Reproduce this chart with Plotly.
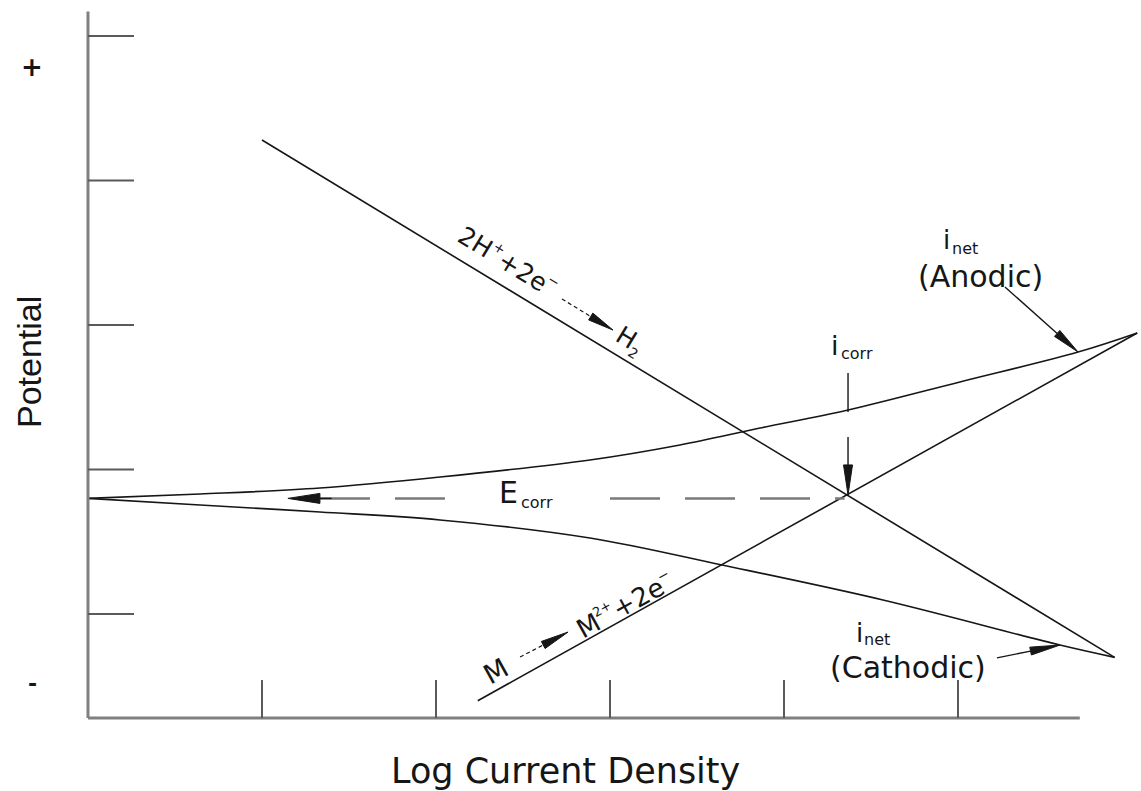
import math
import plotly.graph_objects as go

# ---- Evans diagram data (log current density vs. potential, arbitrary units) ----
X_TICKS = [1, 2, 3, 4, 5]
Y_TICKS = [1, 2, 3, 4, 5]
AXIS_X_END = 5.70
AXIS_Y_BOTTOM = 0.28
AXIS_Y_TOP = 5.17

# Cathodic Tafel line: 2H+ + 2e- -> H2
H_X = [1.00, 5.90]
H_Y = [4.28, 0.70]
# Anodic Tafel line: M -> M2+ + 2e-
M_X = [2.24, 6.03]
M_Y = [0.40, 2.945]

# Net (measured) polarization curves
ANODIC_X = [0.0, 0.644, 1.333, 2.023, 2.885, 3.402, 3.862, 4.368, 5.011, 5.690, 6.03]
ANODIC_Y = [1.80, 1.830, 1.872, 1.948, 2.066, 2.170, 2.287, 2.412, 2.606, 2.813, 2.945]
CATHODIC_X = [0.0, 0.644, 1.333, 2.023, 2.885, 3.644, 4.569, 5.586, 5.90]
CATHODIC_Y = [1.80, 1.754, 1.706, 1.651, 1.526, 1.339, 1.097, 0.785, 0.70]

E_CORR = 1.80
I_CORR = 4.368
E_AT_ICORR = 1.824

# ---- canvas / scale ----
W, H = 1141, 791
X_RANGE = [-0.5057, 6.0517]
Y_RANGE = [-0.2249, 5.2491]
SX = W / (X_RANGE[1] - X_RANGE[0])   # pixels per x unit
SY = H / (Y_RANGE[1] - Y_RANGE[0])   # pixels per y unit

INK = "#161616"
AXIS_GREY = "#808080"
FONT_WIDE = "DejaVu Sans"
FONT_ARIAL = "Liberation Sans, Arial"

# DejaVu Sans advance widths (em) for the glyphs used in the reaction labels
ADV = {"2": 0.636, "H": 0.752, "+": 0.838, "e": 0.615, "\u2212": 0.838, "M": 0.863}

fig = go.Figure()

# curves
for xs, ys in [(H_X, H_Y), (M_X, M_Y)]:
    fig.add_trace(go.Scatter(x=xs, y=ys, mode="lines",
                             line=dict(color=INK, width=1.6), hoverinfo="skip"))
for xs, ys in [(ANODIC_X, ANODIC_Y), (CATHODIC_X, CATHODIC_Y)]:
    fig.add_trace(go.Scatter(x=xs, y=ys, mode="lines",
                             line=dict(color=INK, width=1.6, shape="spline", smoothing=1.0),
                             hoverinfo="skip"))

shapes = []


def seg(x0, y0, x1, y1, color=INK, width=1.5, dash=None):
    d = dict(type="line", xref="x", yref="y", x0=x0, y0=y0, x1=x1, y1=y1,
             line=dict(color=color, width=width))
    if dash:
        d["line"]["dash"] = dash
    shapes.append(d)


def arrow(tail, tip, length=30, width=9, lw=1.4, dash=None):
    """Shaft from tail to the base of a slender filled head ending at tip."""
    dx = (tip[0] - tail[0]) * SX
    dy = (tip[1] - tail[1]) * SY
    n = math.hypot(dx, dy)
    ux, uy = dx / n, dy / n
    bx, by = tip[0] - ux * length / SX, tip[1] - uy * length / SY
    seg(tail[0], tail[1], bx, by, width=lw, dash=dash)
    px, py = -uy * width / 2, ux * width / 2
    p1 = (bx + px / SX, by + py / SY)
    p2 = (bx - px / SX, by - py / SY)
    shapes.append(dict(type="path", xref="x", yref="y",
                       path=f"M {tip[0]},{tip[1]} L {p1[0]},{p1[1]} L {p2[0]},{p2[1]} Z",
                       fillcolor=INK, line=dict(color=INK, width=1)))


# axes drawn as lines with inward ticks
seg(0, AXIS_Y_BOTTOM, 0, AXIS_Y_TOP, color=AXIS_GREY, width=3)
seg(0, AXIS_Y_BOTTOM, AXIS_X_END, AXIS_Y_BOTTOM, color=AXIS_GREY, width=3)
for t in X_TICKS:
    seg(t, AXIS_Y_BOTTOM, t, AXIS_Y_BOTTOM + 38 / SY, color="#5a5a5a", width=2)
for t in Y_TICKS:
    seg(0, t, 46 / SX, t, color="#5a5a5a", width=2)

# E_corr dashed guide with arrow to the potential axis
seg(1.333, E_CORR, 2.195, E_CORR, color="#7a7a7a", width=2.5, dash="50px,25px")
seg(3.00, E_CORR, I_CORR - 0.02, E_CORR, color="#7a7a7a", width=2.5, dash="50px,25px")
arrow((1.40, E_CORR), (1.149, E_CORR), length=32, width=10)

# i_corr pointer
seg(I_CORR, 2.668, I_CORR, 2.398, width=1.4)
arrow((I_CORR, 2.225), (I_CORR, E_AT_ICORR), length=30, width=9)

# net current pointers
arrow((5.270, 3.263), (5.690, 2.813), length=28, width=8)
arrow((5.224, 0.696), (5.586, 0.785), length=30, width=8)

# reaction arrows inside the Tafel-line labels
arrow((2.724, 3.180), (3.017, 2.965), length=26, width=8, lw=1.2, dash="4px,3px")
arrow((2.483, 0.702), (2.759, 0.875), length=28, width=8, lw=1.2, dash="4px,3px")


def to_data(px, py):
    return X_RANGE[0] + px / SX, Y_RANGE[1] - py / SY


def label(px, py, text, size, angle=0, family=FONT_WIDE):
    x, y = to_data(px, py)
    fig.add_annotation(x=x, y=y, xref="x", yref="y", text=text, showarrow=False,
                       textangle=angle, xanchor="center", yanchor="middle",
                       font=dict(family=family, size=size, color=INK))


def run(cx, cy, angle, pieces):
    """Lay out (text, size, lift) pieces along a rotated baseline centred on (cx, cy)."""
    th = math.radians(angle)
    dx, dy = math.cos(th), math.sin(th)
    nx, ny = math.sin(th), -math.cos(th)
    widths = [sum(ADV[ch] for ch in t) * s for t, s, _ in pieces]
    pos = -sum(widths) / 2
    for (t, s, lift), w in zip(pieces, widths):
        c = pos + w / 2
        label(cx + dx * c + nx * lift, cy + dy * c + ny * lift, t, s, angle)
        pos += w


ANG_H = math.degrees(math.atan2(518, 852))
ANG_M = -math.degrees(math.atan2(365, 660))

# reaction labels along the Tafel lines
run(508, 262, ANG_H, [("2H", 25, 0), ("+", 14, 8), ("+2e", 25, 0), ("\u2212", 14, 8)])
run(630, 340, ANG_H, [("H", 25, 0), ("2", 14, -9)])
run(495, 671, ANG_M, [("M", 27, 0)])
run(625, 605, ANG_M, [("M", 26, 0), ("2", 13, 8), ("+", 13, 8),
                      ("+2e", 26, 0), ("\u2212", 14, 8)])

# E_corr / i_corr / i_net labels (main letter plus separate subscript)
label(508, 492, "E", 30)
label(537, 502, "corr", 16)
label(835, 345, "i", 27)
label(857, 353, "corr", 16)
label(946, 240, "i", 26)
label(965, 248, "net", 16)
label(980, 276, "(Anodic)", 30)
label(859, 633, "i", 26)
label(877, 639, "net", 16)
label(908, 667, "(Cathodic)", 30)

# potential sign markers and axis titles
label(32, 67, "<b>+</b>", 26)
label(32, 683, "<b>-</b>", 22)
label(29, 362, "Potential", 34, -90, FONT_ARIAL)
label(565, 771, "Log Current Density", 35)

fig.update_layout(
    width=W, height=H,
    margin=dict(l=0, r=0, t=0, b=0),
    paper_bgcolor="white", plot_bgcolor="white",
    showlegend=False,
    xaxis=dict(range=X_RANGE, visible=False, fixedrange=True),
    yaxis=dict(range=Y_RANGE, visible=False, fixedrange=True),
    shapes=shapes,
)

fig.write_html("out.html", config={"displayModeBar": False})
